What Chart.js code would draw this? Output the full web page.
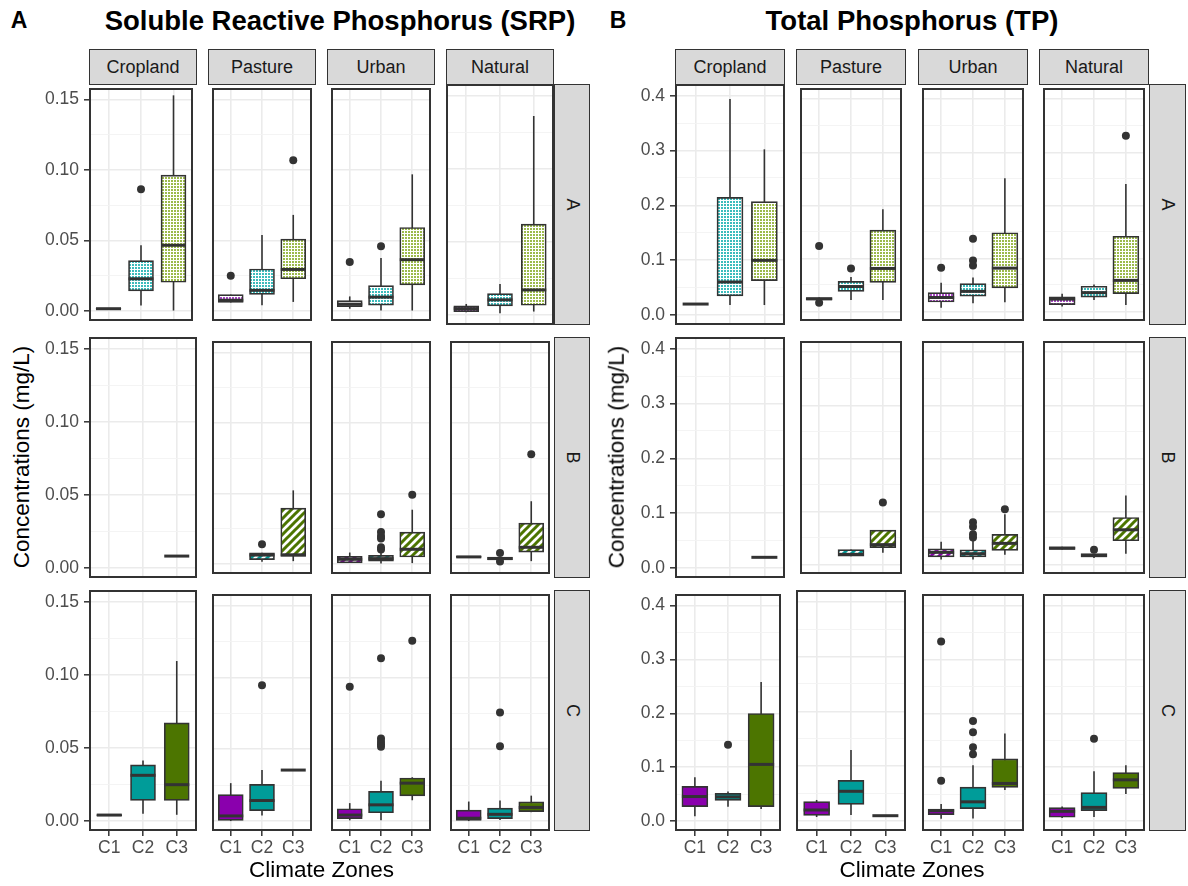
<!DOCTYPE html>
<html>
<head>
<meta charset="utf-8">
<script src="https://cdn.jsdelivr.net/npm/chart.js@4.4.1/dist/chart.umd.min.js"></script>
<style>
  body { margin: 0; background: #fff; font-family: "Liberation Sans", Arial, sans-serif; }
  #fig { position: relative; width: 1188px; height: 886px; overflow: hidden; background: #fff; }
  #fig canvas { position: absolute; }
  .strip { position: absolute; box-sizing: border-box; background: #d9d9d9; border: 1.8px solid #333;
           display: flex; align-items: center; justify-content: center; font-size: 18px; color: #1a1a1a; }
  .strip span.rot { display: inline-block; transform: rotate(90deg); }
  .txt { position: absolute; transform: translate(-50%, -50%); white-space: nowrap; line-height: 1; color: #000; }
  .tag { font-weight: bold; font-size: 23px; }
  .title { font-weight: bold; font-size: 27.5px; }
  .axt { font-size: 22.5px; }
  .yt { transform: translate(-50%, -50%) rotate(-90deg); }
</style>
</head>
<body>
<div id="fig"></div>
<script>
const landUses = ['Cropland', 'Pasture', 'Urban', 'Natural'];
const zones = ['C1', 'C2', 'C3'];
const groups = ['A', 'B', 'C'];
const zoneColors = ['#8a00ad', '#009c99', '#4c7500'];
const dotColors = ['#a848c4', '#3cbcbc', '#9cba4c'];

const srpTicks = [0, 0.05, 0.10, 0.15];
const srpTickLabels = ['0.00', '0.05', '0.10', '0.15'];
const srpMinorTicks = [0.025, 0.075, 0.125];
const tpTicks = [0, 0.1, 0.2, 0.3, 0.4];
const tpTickLabels = ['0.0', '0.1', '0.2', '0.3', '0.4'];
const tpMinorTicks = [0.05, 0.15, 0.25, 0.35];

// [lower whisker, Q1, median, Q3, upper whisker] per land use, zones C1..C3 (null = no data)
const srpA = [
  [[0.0015, 0.0015, 0.0018, 0.002, 0.0022], [0.0041, 0.0144, 0.023, 0.0358, 0.0467], [0.0005, 0.0205, 0.0467, 0.0964, 0.1528]],
  [[0.0062, 0.0062, 0.0078, 0.0118, 0.0118], [0.0043, 0.0119, 0.0148, 0.0299, 0.054], [0.0066, 0.023, 0.0296, 0.0511, 0.0682]],
  [[0.0018, 0.0032, 0.005, 0.0075, 0.0105], [0.0005, 0.0043, 0.01, 0.0182, 0.0376], [0.0005, 0.0187, 0.0365, 0.0593, 0.0969]],
  [[0.0018, 0.0023, 0.0043, 0.0062, 0.0075], [0.0011, 0.0062, 0.0103, 0.0146, 0.0212], [0.0023, 0.0066, 0.0171, 0.0622, 0.1361]]
];
const srpB = [
  [null, null, [0.0081, 0.0081, 0.0081, 0.0081, 0.0081]],
  [null, [0.0017, 0.0033, 0.0065, 0.0081, 0.0081], [0.0022, 0.0056, 0.0067, 0.0398, 0.0523]],
  [[0.001, 0.001, 0.0035, 0.0056, 0.0083], [0.0005, 0.0022, 0.004, 0.0063, 0.0095], [0.0008, 0.0051, 0.0106, 0.0227, 0.0386]],
  [[0.0048, 0.0048, 0.0052, 0.0056, 0.0056], [0.0033, 0.0033, 0.004, 0.0051, 0.0051], [0.0022, 0.0086, 0.012, 0.0291, 0.0446]]
];
const srpC = [
  [[0.0036, 0.0036, 0.004, 0.0044, 0.0044], [0.0049, 0.0141, 0.0312, 0.0383, 0.0413], [0.0042, 0.0141, 0.0248, 0.0671, 0.1094]],
  [[0, 0.0005, 0.0036, 0.0184, 0.0264], [0.0038, 0.0072, 0.0143, 0.0255, 0.0355], [0.0355, 0.0355, 0.0355, 0.0355, 0.0355]],
  [[0.0005, 0.0017, 0.0042, 0.0086, 0.0125], [0.0005, 0.0058, 0.0113, 0.0207, 0.028], [0.0145, 0.0175, 0.0264, 0.03, 0.0305]],
  [[0, 0.0005, 0.002, 0.0077, 0.0136], [0.0008, 0.0017, 0.0047, 0.009, 0.0143], [0.0062, 0.0065, 0.0095, 0.0134, 0.0177]]
];
const srpOutA = [[[], [0.0864], []], [[0.0251], [], [0.1069]], [[0.0349], [0.046], []], [[], [], []]];
const srpOutB = [[[], [], []], [[], [0.0142], []], [[], [0.0354, 0.0229, 0.02, 0.0183, 0.012, 0.0104], [0.0491]], [[], [0.0079, 0.0019], [0.0778]]];
const srpOutC = [[[], [], []], [[], [0.0945], []], [[0.0934], [0.1133, 0.0575, 0.0552, 0.0534, 0.0518], [0.1254]], [[], [0.0756, 0.052], []]];

const tpA = [
  [[0.02, 0.02, 0.02, 0.02, 0.02], [0.0182, 0.0347, 0.0602, 0.2146, 0.394], [0.0182, 0.0626, 0.0997, 0.2067, 0.3022]],
  [[0.022, 0.022, 0.0235, 0.026, 0.026], [0.0213, 0.0377, 0.0468, 0.0565, 0.065], [0.0213, 0.0547, 0.0809, 0.1532, 0.1927]],
  [[0.0067, 0.0176, 0.0261, 0.0353, 0.0541], [0.0152, 0.0286, 0.0377, 0.0523, 0.0638], [0.017, 0.0444, 0.0815, 0.1483, 0.2511]],
  [[0.0091, 0.0128, 0.0231, 0.0274, 0.0334], [0.0213, 0.0268, 0.0353, 0.0474, 0.0505], [0.0122, 0.0334, 0.0584, 0.1417, 0.2402]]
];
const tpB = [
  [null, null, [0.0195, 0.0195, 0.0195, 0.0195, 0.0195]],
  [null, [0.0152, 0.0152, 0.0189, 0.028, 0.028], [0.022, 0.0317, 0.0372, 0.0646, 0.0646]],
  [[0.0091, 0.014, 0.0226, 0.0293, 0.0427], [0.0091, 0.014, 0.0201, 0.0274, 0.045], [0.0183, 0.0262, 0.0396, 0.0567, 0.0945]],
  [[0.028, 0.028, 0.0305, 0.033, 0.033], [0.0122, 0.014, 0.0165, 0.0201, 0.0201], [0.0201, 0.0445, 0.0652, 0.0884, 0.1299]]
];
const tpC = [
  [[0.0091, 0.0268, 0.0457, 0.0645, 0.0816], [0.0268, 0.0384, 0.045, 0.0517, 0.055], [0.0225, 0.0268, 0.1053, 0.1997, 0.2581]],
  [[0.0073, 0.0104, 0.0201, 0.0353, 0.0384], [0.011, 0.0304, 0.0542, 0.0743, 0.1297], [0.0097, 0.0097, 0.0097, 0.0097, 0.0097]],
  [[0.0043, 0.0122, 0.0195, 0.0225, 0.0317], [0.0049, 0.0231, 0.0359, 0.0633, 0.1035], [0.0578, 0.0627, 0.07, 0.1157, 0.1626]],
  [[0.0061, 0.0073, 0.0183, 0.025, 0.0274], [0.0079, 0.0195, 0.0256, 0.053, 0.0925], [0.0505, 0.0609, 0.0767, 0.0901, 0.1035]]
];
const tpOutA = [[[], [], []], [[0.1234, 0.0164], [0.0809], []], [[0.0821], [0.1368, 0.0961, 0.0863], []], [[], [], [0.3314]]];
const tpOutB = [[[], [], []], [[], [], [0.1165]], [[], [0.0793, 0.0707, 0.0567, 0.0506], [0.1037]], [[], [0.0274], []]];
const tpOutC = [[[], [0.1419], []], [[], [], []], [[0.333, 0.0749], [0.1857, 0.165, 0.137, 0.1242], []], [[], [0.1528], []]];

Chart.defaults.font.family = '"Liberation Sans", Arial, sans-serif';

const fig = document.getElementById('fig');
const rowTop = [84, 337, 590];
const rowH = 241;
const stripTop = 49, stripH = 36;
const axisW = 50, axisH = 34;

const figures = [
  { tag: 'A', tagX: 19, title: 'Soluble Reactive Phosphorus (SRP)', titleX: 340, yTitleX: 22,
    xs: [89, 208, 327, 446], w: 108, sideX: 554, sideW: 36,
    rows: [srpA, srpB, srpC], outs: [srpOutA, srpOutB, srpOutC],
    ticks: srpTicks, minor: srpMinorTicks, labels: srpTickLabels, yMin: -0.0069, yMax: 0.158 },
  { tag: 'B', tagX: 618, title: 'Total Phosphorus (TP)', titleX: 912, yTitleX: 617,
    xs: [675, 796, 918, 1039], w: 110, sideX: 1149, sideW: 37,
    rows: [tpA, tpB, tpC], outs: [tpOutA, tpOutB, tpOutC],
    ticks: tpTicks, minor: tpMinorTicks, labels: tpTickLabels, yMin: -0.0182, yMax: 0.4213 }
];

function makeFill(kind, zi) {
  if (kind === 'solid') return zoneColors[zi];
  const c = document.createElement('canvas');
  const g = c.getContext('2d');
  if (kind === 'dots') {
    c.width = c.height = 3;
    g.fillStyle = '#fff';
    g.fillRect(0, 0, 3, 3);
    g.fillStyle = dotColors[zi];
    g.fillRect(0, 0, 2, 2);
  } else {
    c.width = c.height = 8;
    g.fillStyle = '#fff';
    g.fillRect(0, 0, 8, 8);
    g.strokeStyle = zoneColors[zi];
    g.lineWidth = 3;
    g.beginPath();
    g.moveTo(-2, 10); g.lineTo(10, -2);
    g.moveTo(-2, 2); g.lineTo(2, -2);
    g.moveTo(6, 10); g.lineTo(10, 6);
    g.stroke();
  }
  return g.createPattern(c, 'repeat');
}
const fillKinds = ['dots', 'stripes', 'solid'];

const boxParts = {
  id: 'boxParts',
  beforeDatasetsDraw(chart) {
    const ds = chart.data.datasets[0], meta = chart.getDatasetMeta(0);
    const y = chart.scales.y, g = chart.ctx, a = chart.chartArea;
    g.save();
    g.beginPath(); g.rect(a.left, a.top, a.width, a.height); g.clip();
    g.strokeStyle = '#333'; g.lineWidth = 1.6;
    meta.data.forEach((bar, i) => {
      const s = ds.stats[i];
      g.beginPath();
      g.moveTo(bar.x, y.getPixelForValue(s[0]));
      g.lineTo(bar.x, y.getPixelForValue(s[4]));
      g.stroke();
    });
    g.restore();
  },
  afterDatasetDraw(chart, args) {
    if (args.index !== 0) return;
    const ds = chart.data.datasets[0];
    const y = chart.scales.y, g = chart.ctx;
    g.save();
    g.strokeStyle = '#333'; g.lineWidth = 3;
    args.meta.data.forEach((bar, i) => {
      const py = y.getPixelForValue(ds.stats[i][2]);
      g.beginPath();
      g.moveTo(bar.x - bar.width / 2, py);
      g.lineTo(bar.x + bar.width / 2, py);
      g.stroke();
    });
    g.restore();
  },
  afterDraw(chart) {
    const a = chart.chartArea, g = chart.ctx;
    g.save();
    g.strokeStyle = '#333'; g.lineWidth = 2;
    g.strokeRect(a.left + 1, a.top + 1, a.width - 2, a.height - 2);
    g.restore();
  }
};

function addText(cls, text, x, y) {
  const d = document.createElement('div');
  d.className = 'txt ' + cls;
  d.textContent = text;
  d.style.left = x + 'px';
  d.style.top = y + 'px';
  fig.appendChild(d);
}

function addStrip(x, y, w, h, text, rotated) {
  const d = document.createElement('div');
  d.className = 'strip';
  d.style.left = x + 'px'; d.style.top = y + 'px';
  d.style.width = w + 'px'; d.style.height = h + 'px';
  const s = document.createElement('span');
  if (rotated) s.className = 'rot';
  s.textContent = text;
  d.appendChild(s);
  fig.appendChild(d);
}

function buildPanel(f, r, c) {
  const isLeft = c === 0, isBottom = r === 2;
  const cv = document.createElement('canvas');
  cv.width = f.w + (isLeft ? axisW : 0);
  cv.height = rowH + (isBottom ? axisH : 0);
  cv.style.left = (f.xs[c] - (isLeft ? axisW : 0)) + 'px';
  cv.style.top = rowTop[r] + 'px';
  fig.appendChild(cv);

  const boxes = f.rows[r][c];
  const outs = f.outs[r][c];
  const stats = [], boxData = [], fills = [], outData = [];
  boxes.forEach((s, zi) => {
    if (!s) return;
    stats.push(s);
    boxData.push({ x: zi + 1, y: [s[1], s[3]] });
    fills.push(makeFill(fillKinds[r], zi));
  });
  outs.forEach((vals, zi) => vals.forEach(v => outData.push({ x: zi + 1, y: v })));

  const allY = f.ticks.concat(f.minor).sort((a, b) => a - b);
  const isMajor = v => f.ticks.some(t => Math.abs(t - v) < 1e-9);
  const unit = f.w / 3.2;

  new Chart(cv, {
    type: 'bar',
    data: {
      datasets: [
        { type: 'bar', data: boxData, stats: stats, backgroundColor: fills,
          borderColor: '#333', borderWidth: 1.7, borderSkipped: false,
          barThickness: Math.round(unit * 0.75), grouped: false, order: 2 },
        { type: 'scatter', data: outData, pointRadius: 4, pointBackgroundColor: '#333',
          pointBorderWidth: 0, order: 0 }
      ]
    },
    options: {
      responsive: false,
      devicePixelRatio: 1,
      animation: false,
      events: [],
      layout: { padding: 0 },
      plugins: { legend: { display: false }, tooltip: { enabled: false } },
      scales: {
        x: {
          type: 'linear', min: 0.4, max: 3.6, bounds: 'data', offset: false,
          afterBuildTicks: s => { s.ticks = [1, 2, 3].map(v => ({ value: v })); },
          afterFit: s => { s.height = isBottom ? axisH : 0; s.paddingLeft = 0; s.paddingRight = 0; },
          border: { display: false },
          grid: { offset: false, color: '#ebebeb', lineWidth: 1.6, drawTicks: isBottom,
                  tickLength: 5, tickColor: '#333', tickWidth: 1.5 },
          ticks: { display: isBottom, autoSkip: false, maxRotation: 0, padding: 2,
                   color: '#4d4d4d', font: { size: 17.5 },
                   callback: v => zones[v - 1] }
        },
        y: {
          type: 'linear', min: f.yMin, max: f.yMax, bounds: 'data',
          afterBuildTicks: s => { s.ticks = allY.map(v => ({ value: v })); },
          afterFit: s => { s.width = isLeft ? axisW : 0; s.paddingTop = 0; s.paddingBottom = 0; },
          border: { display: false },
          grid: {
            color: ctx => isMajor(ctx.tick.value) ? '#ebebeb' : '#f3f3f3',
            lineWidth: ctx => isMajor(ctx.tick.value) ? 1.6 : 0.9,
            drawTicks: isLeft, tickLength: 5, tickWidth: 1.5,
            tickColor: ctx => isMajor(ctx.tick.value) ? '#333' : 'rgba(0,0,0,0)'
          },
          ticks: { display: isLeft, autoSkip: false, padding: 5, color: '#4d4d4d', font: { size: 17.5 },
                   callback: v => { const i = f.ticks.findIndex(t => Math.abs(t - v) < 1e-9); return i >= 0 ? f.labels[i] : ''; } }
        }
      }
    },
    plugins: [boxParts]
  });
}

figures.forEach(f => {
  landUses.forEach((lu, c) => addStrip(f.xs[c], stripTop, f.w, stripH, lu, false));
  groups.forEach((gname, r) => addStrip(f.sideX, rowTop[r], f.sideW, rowH, gname, true));
  for (let r = 0; r < 3; r++) for (let c = 0; c < 4; c++) buildPanel(f, r, c);
  addText('tag', f.tag, f.tagX, 20);
  addText('title', f.title, f.titleX, 21);
  addText('axt yt', 'Concentrations (mg/L)', f.yTitleX, 457);
  addText('axt', 'Climate Zones', (f.xs[0] + f.sideX) / 2, 870);
});
</script>
</body>
</html>
